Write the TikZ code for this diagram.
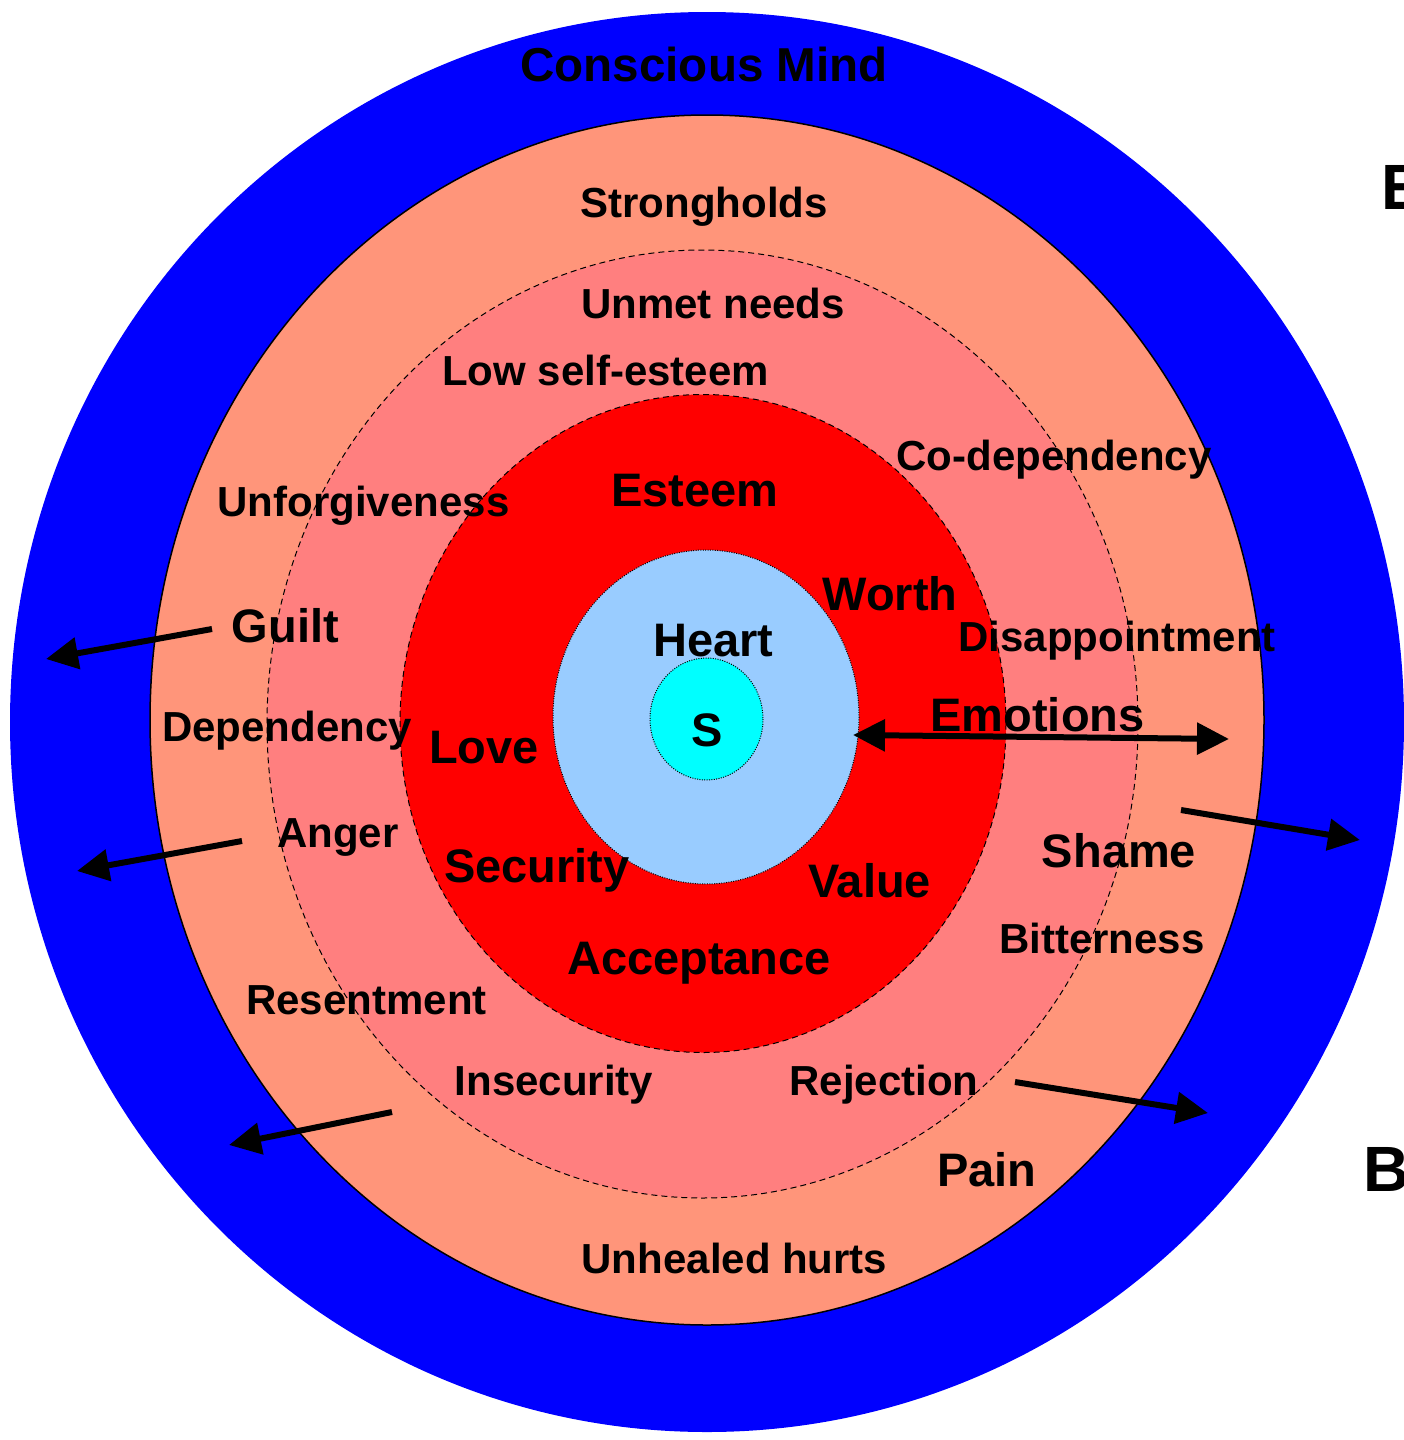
\documentclass[tikz,border=0pt]{standalone}
\usepackage{fontspec}
\setmainfont{Liberation Sans}
\usetikzlibrary{arrows.meta}

\definecolor{mindblue}{RGB}{0,0,255}
\definecolor{holdsalmon}{RGB}{255,149,122}
\definecolor{needpink}{RGB}{255,127,127}
\definecolor{corered}{RGB}{255,0,0}
\definecolor{heartblue}{RGB}{153,204,255}
\definecolor{spiritcyan}{RGB}{0,255,255}

\begin{document}
\begin{tikzpicture}[x=0.5pt, y=-0.5pt,
    small/.style={font=\fontsize{21}{25}\selectfont\bfseries, inner sep=0pt, anchor=base},
    large/.style={font=\fontsize{23.5}{28}\selectfont\bfseries, inner sep=0pt, anchor=base},
    push/.style={line width=3pt, -{Triangle[length=16pt, width=15.5pt]}}]
    \useasboundingbox (0, 0) rectangle (1403, 1440);

    % rings, outside in
    \fill[mindblue] (707, 722) ellipse [x radius=697, y radius=710];
    \draw[line width=0.75pt, fill=holdsalmon] (707, 720) ellipse [x radius=557, y radius=605];
    \draw[line width=0.5pt, dash pattern=on 3pt off 2pt, fill=needpink] (702.5, 724) ellipse [x radius=435.5, y radius=474];
    \draw[line width=0.5pt, dash pattern=on 3pt off 2pt, fill=corered] (703, 723.5) ellipse [x radius=303, y radius=329];
    \draw[line width=0.5pt, dash pattern=on 0.5pt off 0.7pt, fill=heartblue] (706, 717) ellipse [x radius=153, y radius=167];
    \draw[line width=0.5pt, dash pattern=on 0.5pt off 0.7pt, fill=spiritcyan] (706.5, 719) ellipse [x radius=56.5, y radius=61];

    \node[large, font=\fontsize{23.8}{28}\selectfont\bfseries] (conscious) at (704, 81) {Conscious Mind};
    \node[small] (strongholds) at (704, 217) {Strongholds};
    \node[small] (unmet) at (713, 318) {Unmet needs};
    \node[small] (lowesteem) at (605.5, 385) {Low self-esteem};
    \node[small] (codep) at (1054, 470) {Co-dependency};
    \node[small] (unforgive) at (363.5, 516) {Unforgiveness};
    \node[large] (esteem) at (695, 506) {Esteem};
    \node[large] (worth) at (890, 610) {Worth};
    \node[large] (guilt) at (285.5, 642) {Guilt};
    \node[large] (heart) at (713.5, 656) {Heart};
    \node[small] (disappoint) at (1117, 651) {Disappointment};
    \node[large] (emotions) at (1037.5, 731) {Emotions};
    \node[small] (dependency) at (287, 741) {Dependency};
    \node[large] (love) at (484, 763) {Love};
    \node[large] (spirit) at (707, 746) {S};
    \node[small] (anger) at (338, 847) {Anger};
    \node[large] (shame) at (1119, 867) {Shame};
    \node[large] (security) at (537, 882) {Security};
    \node[large] (value) at (869.5, 897) {Value};
    \node[small] (bitter) at (1102, 953) {Bitterness};
    \node[large] (accept) at (699, 974) {Acceptance};
    \node[small] (resent) at (366.5, 1014) {Resentment};
    \node[small] (insecure) at (554, 1095) {Insecurity};
    \node[small] (reject) at (884, 1095) {Rejection};
    \node[large] (pain) at (987, 1186) {Pain};
    \node[small] (unhealed) at (734.5, 1273) {Unhealed hurts};

    \node[font=\fontsize{32}{36}\selectfont\bfseries, inner sep=0pt, anchor=base west] (edge1) at (1381, 209) {E};
    \node[font=\fontsize{32}{36}\selectfont\bfseries, inner sep=0pt, anchor=base west] (edge2) at (1363, 1191) {B};

    % arrows
    \coordinate (guiltS) at (212, 629);
    \coordinate (guiltE) at (46, 659);
    \coordinate (angerS) at (242, 841);
    \coordinate (angerE) at (77, 871);
    \coordinate (resentS) at (392, 1112);
    \coordinate (resentE) at (229, 1145);
    \coordinate (shameS) at (1181, 810);
    \coordinate (shameE) at (1360, 840);
    \coordinate (rejectS) at (1015, 1082);
    \coordinate (rejectE) at (1208, 1113);
    \coordinate (emoL) at (853, 735);
    \coordinate (emoR) at (1229, 739);

    \draw[push] (guiltS) -- (guiltE);
    \draw[push] (angerS) -- (angerE);
    \draw[push] (resentS) -- (resentE);
    \draw[push] (shameS) -- (shameE);
    \draw[push] (rejectS) -- (rejectE);
    \draw[push, {Triangle[length=16pt, width=15.5pt]}-{Triangle[length=16pt, width=15.5pt]}] (emoL) -- (emoR);
\end{tikzpicture}
\end{document}
